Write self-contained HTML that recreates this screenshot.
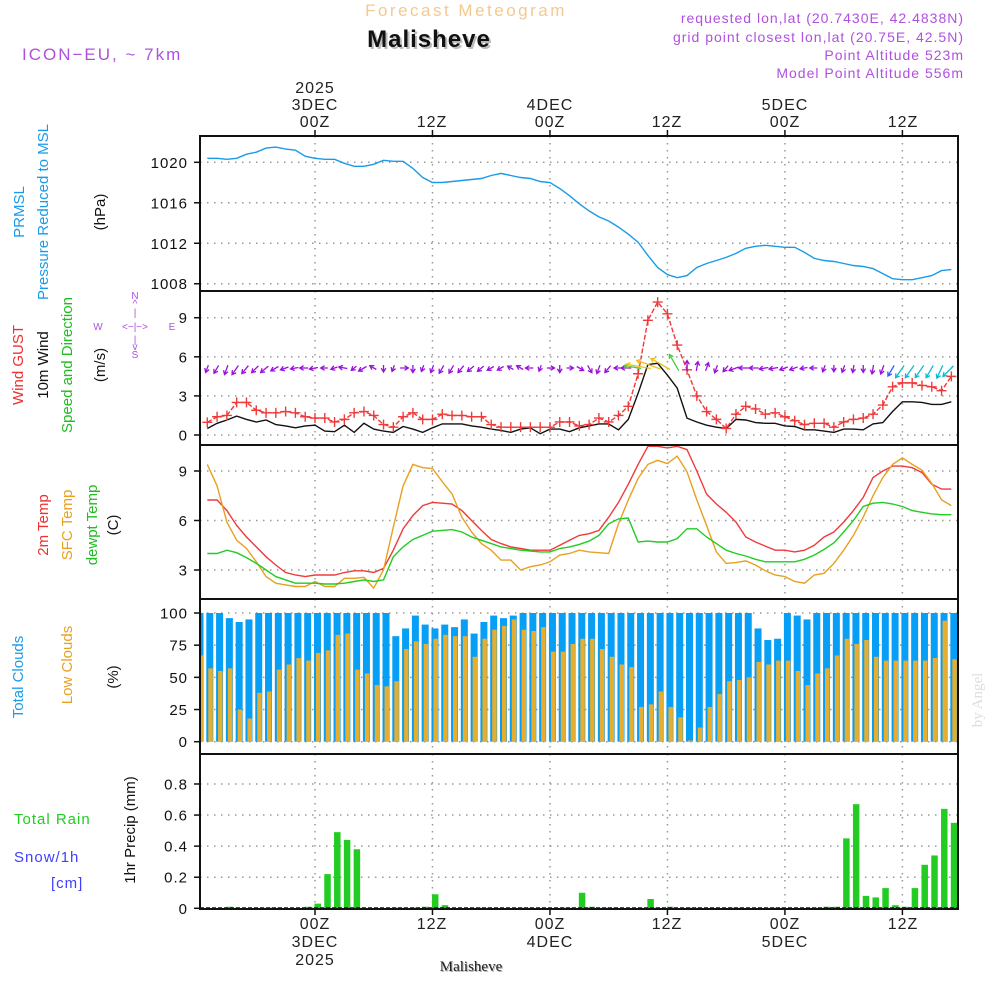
<!DOCTYPE html>
<html><head><meta charset="utf-8"><style>
html,body{margin:0;padding:0;background:#fff;}
svg{display:block;font-family:"Liberation Sans",sans-serif;}
</style></head><body>
<svg id="chart" width="1000" height="1000" viewBox="0 0 1000 1000" xmlns="http://www.w3.org/2000/svg">
<rect x="0" y="0" width="1000" height="1000" fill="#fff"/>
<text x="466" y="16" text-anchor="middle" font-size="17" fill="#f5c98e" letter-spacing="2.5">Forecast Meteogram</text>
<text x="431" y="49" text-anchor="middle" font-size="24" font-weight="bold" fill="#bbb" letter-spacing="1">Malisheve</text>
<text x="429" y="47" text-anchor="middle" font-size="24" font-weight="bold" fill="#111" letter-spacing="1">Malisheve</text>
<text x="22" y="60" font-size="17" fill="#b050e0" letter-spacing="2">ICON−EU, ~ 7km</text>
<g font-size="14" fill="#b050e0" text-anchor="end" letter-spacing="1">
<text x="964" y="23">requested lon,lat (20.7430E, 42.4838N)</text>
<text x="964" y="42">grid point closest lon,lat (20.75E, 42.5N)</text>
<text x="964" y="60">Point Altitude 523m</text>
<text x="964" y="78">Model Point Altitude 556m</text>
</g>
<g font-size="16" fill="#222" text-anchor="middle" letter-spacing="1">
<text x="315" y="93">2025</text><text x="315" y="110">3DEC</text><text x="315" y="127">00Z</text>
<text x="432" y="127">12Z</text>
<text x="550" y="110">4DEC</text><text x="550" y="127">00Z</text>
<text x="667" y="127">12Z</text>
<text x="785" y="110">5DEC</text><text x="785" y="127">00Z</text>
<text x="903" y="127">12Z</text>
</g>
<g font-size="16" fill="#222" text-anchor="middle" letter-spacing="1">
<text x="315" y="929">00Z</text><text x="315" y="947">3DEC</text><text x="315" y="965">2025</text>
<text x="432" y="929">12Z</text>
<text x="550" y="929">00Z</text><text x="550" y="947">4DEC</text>
<text x="667" y="929">12Z</text>
<text x="785" y="929">00Z</text><text x="785" y="947">5DEC</text>
<text x="903" y="929">12Z</text>
</g>
<text x="472" y="972" text-anchor="middle" font-family="Liberation Serif, serif" font-size="15" fill="#aaa">Malisheve</text>
<text x="471" y="971" text-anchor="middle" font-family="Liberation Serif, serif" font-size="15" fill="#222">Malisheve</text>
<text transform="translate(982,700) rotate(-90)" text-anchor="middle" font-family="Liberation Serif, serif" font-size="15" fill="#ddd">by Angel</text>

<g font-size="15" text-anchor="middle">
<text transform="translate(24,212) rotate(-90)" fill="#1a9be8">PRMSL</text>
<text transform="translate(48,212) rotate(-90)" fill="#1a9be8">Pressure Reduced to MSL</text>
<text transform="translate(105,212) rotate(-90)" fill="#111">(hPa)</text>
<text transform="translate(23,365) rotate(-90)" fill="#ee3030">Wind GUST</text>
<text transform="translate(48,365) rotate(-90)" fill="#111">10m Wind</text>
<text transform="translate(72,365) rotate(-90)" fill="#22bb22">Speed and Direction</text>
<text transform="translate(105,365) rotate(-90)" fill="#111">(m/s)</text>
<text transform="translate(48,525) rotate(-90)" fill="#ee3030">2m Temp</text>
<text transform="translate(72,525) rotate(-90)" fill="#e8a020">SFC Temp</text>
<text transform="translate(97,525) rotate(-90)" fill="#22bb22">dewpt Temp</text>
<text transform="translate(118,525) rotate(-90)" fill="#111">(C)</text>
<text transform="translate(23,677) rotate(-90)" fill="#1a9be8">Total Clouds</text>
<text transform="translate(72,665) rotate(-90)" fill="#e8a020">Low Clouds</text>
<text transform="translate(118,677) rotate(-90)" fill="#111">(%)</text>
<text transform="translate(135,830) rotate(-90)" fill="#111">1hr Precip (mm)</text>
</g>
<text x="14" y="824" font-size="15" fill="#22cc22" letter-spacing="1">Total  Rain</text>
<text x="14" y="862" font-size="15" fill="#4040ff" letter-spacing="1">Snow/1h</text>
<text x="51" y="888" font-size="15" fill="#4040ff" letter-spacing="1">[cm]</text>
<g font-size="10" fill="#b050e0" text-anchor="middle">
<text x="135" y="299">N</text><text x="135" y="307">^</text><text x="135" y="316">|</text>
<text x="135" y="330">&lt;−|−&gt;</text><text x="98" y="330">W</text><text x="172" y="330">E</text>
<text x="135" y="343">|</text><text x="135" y="350">v</text><text x="135" y="358">S</text>
</g>
<g id="plots"></g>
</svg>
<script>
const lineHourStart = -11;
const pressure = [1020.4,1020.4,1020.3,1020.4,1020.8,1021.0,1021.4,1021.5,1021.3,1021.2,1020.6,1020.4,1020.3,1020.3,1019.9,1019.6,1019.6,1019.8,1020.2,1020.1,1020.1,1019.4,1018.5,1018.0,1018.0,1018.1,1018.2,1018.3,1018.4,1018.7,1018.9,1018.7,1018.5,1018.4,1018.1,1018.0,1017.4,1016.7,1015.9,1015.2,1014.6,1014.2,1013.6,1012.9,1012.1,1010.8,1009.6,1008.9,1008.6,1008.8,1009.6,1010.0,1010.3,1010.6,1011.0,1011.5,1011.7,1011.8,1011.7,1011.6,1011.6,1011.1,1010.5,1010.3,1010.2,1010.0,1009.8,1009.7,1009.5,1009.0,1008.5,1008.4,1008.4,1008.6,1008.8,1009.3,1009.4];
const windGust = [0.97,1.4,1.5,2.5,2.5,1.9,1.7,1.7,1.8,1.7,1.4,1.3,1.3,1.0,1.2,1.7,1.8,1.5,0.8,0.6,1.4,1.7,1.2,1.2,1.6,1.5,1.5,1.4,1.4,0.8,0.6,0.6,0.6,0.6,0.6,0.6,1.0,1.0,0.7,0.8,1.3,1.0,1.5,2.2,4.7,8.8,10.2,9.3,6.9,5.0,3.0,1.8,1.2,0.5,1.6,2.2,2.0,1.6,1.7,1.4,1.1,0.8,0.9,0.9,0.6,1.0,1.2,1.3,1.6,2.3,3.7,4.0,4.0,3.8,3.7,3.4,4.5];
const wind10m = [0.5,0.9,1.15,1.45,1.2,1.0,1.15,0.8,0.7,0.55,0.7,0.75,0.3,0.25,0.75,0.2,0.9,0.45,0.3,0.2,0.65,0.45,0.2,0.55,0.85,0.85,0.85,0.7,0.6,0.45,0.35,0.2,0.45,0.55,0.1,0.45,0.45,0.25,0.55,0.7,0.85,0.85,0.4,1.2,3.2,5.4,5.5,4.6,3.6,1.3,1.0,0.75,0.6,0.5,1.2,1.15,0.95,0.9,0.9,0.7,0.65,0.4,0.4,0.3,0.2,0.45,0.45,0.4,0.85,0.95,1.8,2.55,2.55,2.5,2.35,2.35,2.55];
const windDir = [200,210,200,215,220,225,230,240,250,260,270,260,270,250,280,230,240,300,180,200,90,180,200,200,210,210,220,230,230,240,240,300,300,270,200,90,180,90,120,150,200,220,270,270,280,280,290,300,330,0,10,20,200,220,250,270,270,260,260,250,250,260,270,200,180,200,190,180,190,200,210,215,215,215,210,205,225];
const temp2m = [7.24,7.24,6.6,5.7,5.0,4.4,3.8,3.3,2.85,2.7,2.6,2.7,2.7,2.7,2.85,2.95,2.95,2.85,3.1,4.2,5.5,6.3,6.9,7.1,7.05,7.0,6.6,6.0,5.4,4.85,4.6,4.4,4.3,4.2,4.2,4.2,4.5,4.8,5.1,5.2,5.4,6.2,7.1,8.2,9.4,10.5,10.5,10.4,10.5,10.3,9.0,7.6,7.0,6.5,5.9,5.0,4.7,4.45,4.2,4.2,4.1,4.2,4.5,5.0,5.3,5.9,6.6,7.4,8.6,9.0,9.3,9.3,9.2,8.9,8.2,7.9,7.9];
const tempSfc = [9.4,8.1,5.9,4.8,4.3,3.5,2.6,2.2,2.1,2.0,2.0,2.3,2.0,2.0,2.5,2.5,2.55,1.9,3.0,5.6,8.1,9.4,9.2,9.15,8.35,7.6,6.2,5.3,4.6,4.2,3.6,3.6,3.0,3.2,3.3,3.5,3.9,4.0,4.2,4.1,4.05,4.0,5.8,7.25,8.55,9.4,9.65,9.45,9.9,8.95,7.25,5.7,4.1,3.4,3.45,3.55,3.3,2.95,2.7,2.6,2.3,2.2,2.7,2.8,3.4,4.2,5.1,6.2,7.5,8.6,9.4,9.8,9.4,9.05,8.25,7.25,6.9];
const dewpt = [4.0,4.0,4.2,4.05,3.75,3.4,3.0,2.6,2.4,2.2,2.2,2.2,2.15,2.15,2.2,2.3,2.4,2.3,2.4,3.8,4.4,4.85,5.1,5.35,5.4,5.45,5.3,5.0,4.8,4.6,4.4,4.3,4.2,4.15,4.1,4.1,4.3,4.4,4.55,4.75,5.1,5.8,6.1,6.15,4.7,4.75,4.7,4.7,4.9,5.5,5.5,5.0,4.6,4.2,4.0,3.85,3.65,3.5,3.5,3.5,3.5,3.65,3.9,4.25,4.65,5.3,6.0,6.85,7.05,7.1,7.0,6.85,6.6,6.5,6.4,6.35,6.35];
const totalClouds = [100,100,100,96,93,95,100,100,100,100,100,100,100,100,100,100,100,100,100,100,82,88,98,91,88,91,89,95,84,93,98,96,98,100,100,100,100,100,100,100,100,100,100,100,100,100,100,100,100,100,100,100,100,100,100,100,100,88,79,80,100,98,95,100,100,100,100,100,100,100,100,100,100,100,100,100,100,100,100];
const lowClouds = [67,57,55,57,25,18,38,39,56,60,65,63,69,71,83,84,56,53,44,43,47,72,78,76,80,83,82,82,66,80,87,90,95,87,86,89,70,70,76,80,80,72,66,60,58,27,29,39,27,19,1,11,27,37,47,48,50,62,60,63,63,55,44,53,57,67,80,76,79,66,63,63,63,63,63,65,94,64,64];
const precip = [0,0,0,0.01,0,0,0,0,0,0,0,0.01,0.03,0.22,0.49,0.44,0.38,0,0,0,0,0,0.005,0.01,0.09,0.02,0,0,0,0,0,0,0,0,0,0,0,0,0,0.1,0.01,0,0,0,0,0,0.06,0,0.01,0,0,0,0,0,0,0,0,0,0,0,0,0,0,0,0.01,0.01,0.45,0.67,0.08,0.07,0.13,0.02,0.01,0.13,0.28,0.34,0.64,0.55,0];
const pressureTicks = [1008,1012,1016,1020];
const windTicks = [0,3,6,9];
const tempTicks = [3,6,9];
const cloudTicks = [0,25,50,75,100];
const precipTicks = [0,0.2,0.4,0.6,0.8];
const gridHours = [0,12,24,36,48,60];

const L = 200, R = 958;
const xH = h => 315 + h * 9.79;
const xBar = i => 200 + i * 9.79;
const yP = p => 162.3 + (1020 - p) * 10.12;
const yW = v => 435 - v * 13.03;
const yT = t => 471 + (9 - t) * 16.5;
const yC = c => 741.7 - c * 1.287;
const yR = r => 908.3 - r * 155.4;
const panels = [
  {name:'pressure-panel', top:136, bot:291},
  {name:'wind-panel', top:291, bot:445},
  {name:'temperature-panel', top:445, bot:599},
  {name:'clouds-panel', top:599, bot:754},
  {name:'precip-panel', top:754, bot:909}
];
const NS = 'http://www.w3.org/2000/svg';
const root = document.getElementById('plots');
function mk(tag, attrs, parent) {
  const e = document.createElementNS(NS, tag);
  for (const k in attrs) e.setAttribute(k, attrs[k]);
  (parent || root).appendChild(e);
  return e;
}
const defs = mk('defs', {});
panels.forEach((p, k) => {
  const cp = mk('clipPath', {id: 'clip' + k}, defs);
  mk('rect', {x: L, y: p.top, width: R - L, height: p.bot - p.top}, cp);
});

function grid(pi, vals, yf, fmt, fs) {
  const p = panels[pi];
  const g = mk('g', {});
  
  
  gridHours.forEach(h => {
    mk('line', {x1: xH(h), x2: xH(h), y1: p.top, y2: p.bot, stroke: '#999', 'stroke-width': 1.5, 'stroke-dasharray': '1.5,5.5'}, g);
  });
  vals.forEach(v => {
    const y = yf(v);
    mk('line', {x1: L, x2: R, y1: y, y2: y, stroke: '#999', 'stroke-width': 1.5, 'stroke-dasharray': '1.5,5.5'}, g);
    mk('line', {x1: L - 6, x2: L, y1: y, y2: y, stroke: '#111', 'stroke-width': 1.5}, g);
    const t = mk('text', {x: 188, y: y + 5.5, 'text-anchor': 'end', 'font-size': fs || 15, fill: '#111', 'letter-spacing': 1}, g);
    t.textContent = fmt(v);
    
    
  });
}
grid(0, pressureTicks, yP, v => v);
grid(1, windTicks, yW, v => v);
grid(2, tempTicks, yT, v => v);
grid(3, cloudTicks, yC, v => v);
grid(4, precipTicks, yR, v => v === 0 ? '0' : v.toFixed(1));

function line(arr, xf, yf, color, name, pi, w) {
  const pts = arr.map((v, i) => xf(lineHourStart + i).toFixed(1) + ',' + yf(v).toFixed(1)).join(' ');
  const e = mk('polyline', {points: pts, fill: 'none', stroke: color, 'stroke-width': w || 1.4, 'clip-path': 'url(#clip' + pi + ')'});
  
  
  return e;
}
line(pressure, xH, yP, '#1a9be8', 'pressure-line', 0);

const cg = mk('g', {'clip-path': 'url(#clip3)'});


totalClouds.forEach((v, i) => {
  const b = mk('rect', {x: xBar(i) - 3.5, y: yC(v), width: 7, height: yC(0) - yC(v), fill: '#069ff5'}, cg);
  
  
});
lowClouds.forEach((v, i) => {
  const b = mk('rect', {x: xBar(i) - 1.5, y: yC(v), width: 4.5, height: yC(0) - yC(v), fill: '#e5ae30'}, cg);
  
  
});
const pg = mk('g', {'clip-path': 'url(#clip4)'});


precip.forEach((v, i) => {
  if (v <= 0) return;
  const b = mk('rect', {x: xBar(i) - 3, y: yR(v), width: 6.5, height: Math.max(yR(0) - yR(v), 1.5), fill: '#22cc22'}, pg);
  
  
});
mk('line', {x1: L, x2: R, y1: yR(0) - 0.5, y2: yR(0) - 0.5, stroke: '#111', 'stroke-width': 1, 'stroke-dasharray': '4,2'});

line(temp2m, xH, yT, '#f03a3a', 'temp-2m-line', 2);
line(tempSfc, xH, yT, '#e8a020', 'sfc-temp-line', 2);
line(dewpt, xH, yT, '#22cc22', 'dewpoint-line', 2);

line(wind10m, xH, yW, '#111', 'wind-10m-line', 1);
line(windGust, xH, yW, '#f03a3a', 'wind-gust-line', 1).setAttribute('stroke-dasharray', '5,2');
const gg = mk('g', {stroke: '#f03a3a', 'stroke-width': 1.4, 'clip-path': 'url(#clip1)'});


windGust.forEach((v, i) => {
  const x = xH(lineHourStart + i), y = yW(v);
  const m = mk('path', {d: `M${x - 5},${y}H${x + 5}M${x},${y - 5}V${y + 5}`}, gg);
  
  
});
function arrowColor(s) {
  if (s < 1.5) return '#9a10dd';
  if (s < 2.2) return '#3355ff';
  if (s < 3) return '#10bccc';
  if (s < 4.5) return '#44cc44';
  return '#e8c020';
}
const ag = mk('g', {'clip-path': 'url(#clip1)'});


windDir.forEach((d, i) => {
  const s = wind10m[i];
  const xc = xH(lineHourStart + i), yc = 368;
  const len = 6 + s * 3.5;
  const a = d * Math.PI / 180;
  const dx = Math.sin(a), dy = -Math.cos(a);
  const x0 = xc - dx * 3, y0 = yc - dy * 3;
  const x1 = x0 + dx * len, y1 = y0 + dy * len;
  const hx = -dx * 4.5, hy = -dy * 4.5;
  const c = Math.cos(0.55), sn = Math.sin(0.55);
  const h1x = x1 + hx * c - hy * sn, h1y = y1 + hx * sn + hy * c;
  const h2x = x1 + hx * c + hy * sn, h2y = y1 - hx * sn + hy * c;
  const ar = mk('path', {d: `M${x0},${y0}L${x1},${y1}M${h1x},${h1y}L${x1},${y1}L${h2x},${h2y}`, stroke: arrowColor(s), 'stroke-width': 1.3, fill: 'none'}, ag);
  
  
});

panels.forEach(p => {
  const f = mk('rect', {x: L, y: p.top, width: R - L, height: p.bot - p.top, fill: 'none', stroke: '#111', 'stroke-width': 2});
  
  
});
gridHours.forEach(h => {
  mk('line', {x1: xH(h), x2: xH(h), y1: panels[0].top - 6, y2: panels[0].top, stroke: '#111', 'stroke-width': 1.5});
  mk('line', {x1: xH(h), x2: xH(h), y1: panels[4].bot, y2: panels[4].bot + 6, stroke: '#111', 'stroke-width': 1.5});
});
</script>
</body></html>
